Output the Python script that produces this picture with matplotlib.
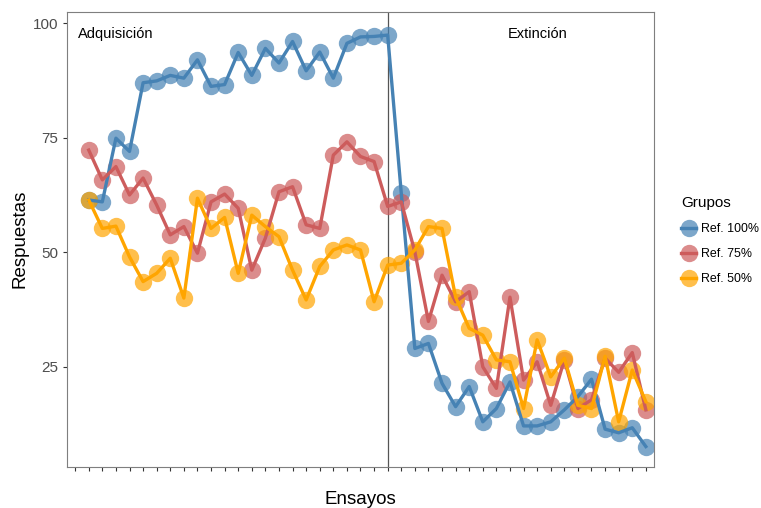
import matplotlib.pyplot as plt
from matplotlib.lines import Line2D

plt.rcParams['font.family'] = ['Liberation Sans', 'DejaVu Sans']

# datos -------------------------------
ensayos = list(range(1, 43))
ref100 = [61.4, 61.0, 74.9, 72.0, 87.0, 87.4, 88.6, 88.0, 92.0, 86.2, 86.6, 93.6, 88.6, 94.5,
          91.3, 96.0, 89.6, 93.7, 88.0, 95.6, 97.0, 97.1, 97.4,
          62.9, 29.0, 30.1, 21.4, 16.3, 20.7, 13.0, 15.9, 21.7, 12.1, 12.1, 13.0, 15.6,
          18.5, 22.3, 11.4, 10.6, 11.7, 7.6]
ref75 = [72.3, 65.8, 68.7, 62.5, 66.2, 60.3, 53.8, 55.6, 49.8, 61.0, 62.7, 59.6, 46.1, 53.1,
         63.2, 64.3, 56.0, 55.2, 71.2, 74.1, 70.9, 69.8, 60.0,
         61.0, 50.1, 34.9, 45.0, 39.2, 41.4, 25.0, 20.3, 40.2, 22.1, 26.1, 16.6, 26.5,
         15.9, 17.8, 26.9, 23.8, 28.1, 15.6]
ref50 = [61.4, 55.2, 55.7, 49.0, 43.6, 45.4, 48.7, 40.0, 61.8, 55.2, 57.6, 45.4, 58.1, 55.6,
         53.4, 46.1, 39.6, 46.9, 50.5, 51.6, 50.5, 39.2, 47.2,
         47.6, 50.5, 55.6, 55.2, 40.2, 33.4, 31.9, 26.5, 26.1, 15.9, 30.9, 22.8, 26.9,
         16.6, 15.9, 27.3, 13.0, 24.3, 17.4]

grupos = ['Ref. 100%', 'Ref. 75%', 'Ref. 50%']
colores = ['#4682B4', '#CD5C5C', '#FFA500']
series = [ref100, ref75, ref50]

fig = plt.figure(figsize=(7.61, 5.08), dpi=100)
ax = fig.add_axes([67/761, 1-466.7/508, (654-67)/761, (466.7-11.7)/508])

# puntos primero, lineas encima
for vals, col in zip(series, colores):
    ax.plot(ensayos, vals, 'o', color=col, markersize=12.5, alpha=0.7,
            markeredgewidth=0, zorder=2)
for vals, col in zip(series, colores):
    ax.plot(ensayos, vals, '-', color=col, linewidth=2.4, zorder=3)

ax.axvline(23, color='#555555', linewidth=0.9, zorder=1)

ax.text(3, 97.6, 'Adquisición', ha='center', va='center', fontsize=10.5)
ax.text(34, 97.6, 'Extinción', ha='center', va='center', fontsize=10.5)

ax.set_xlim(-0.6, 42.6)
ax.set_ylim(3.2, 102.5)
ax.set_xticks(range(0, 43))
ax.set_xticklabels([])
ax.set_yticks([25, 50, 75, 100])
ax.tick_params(axis='both', length=3, width=0.8, colors='#333333',
               labelcolor='#4D4D4D', labelsize=11)

for s in ax.spines.values():
    s.set_color('#7F7F7F')
    s.set_linewidth(0.8)

ax.set_xlabel('Ensayos', fontsize=13.5, labelpad=11)
ax.set_ylabel('Respuestas', fontsize=13.5, labelpad=3)

handles = [Line2D([0], [0], color=c, linewidth=2.4, marker='o', markersize=12.5,
                  markerfacecolor=c + 'B3', markeredgewidth=0) for c in colores]
leg = fig.legend(handles, grupos, title='Grupos', loc='upper left',
                 bbox_to_anchor=(675/761, 1-190/508), frameon=False, fontsize=8.9,
                 title_fontsize=11, handlelength=1.2, handletextpad=0.4,
                 labelspacing=1.05, borderpad=0)
leg._legend_box.align = 'left'

fig.savefig('out.png', dpi=100, facecolor='white')
